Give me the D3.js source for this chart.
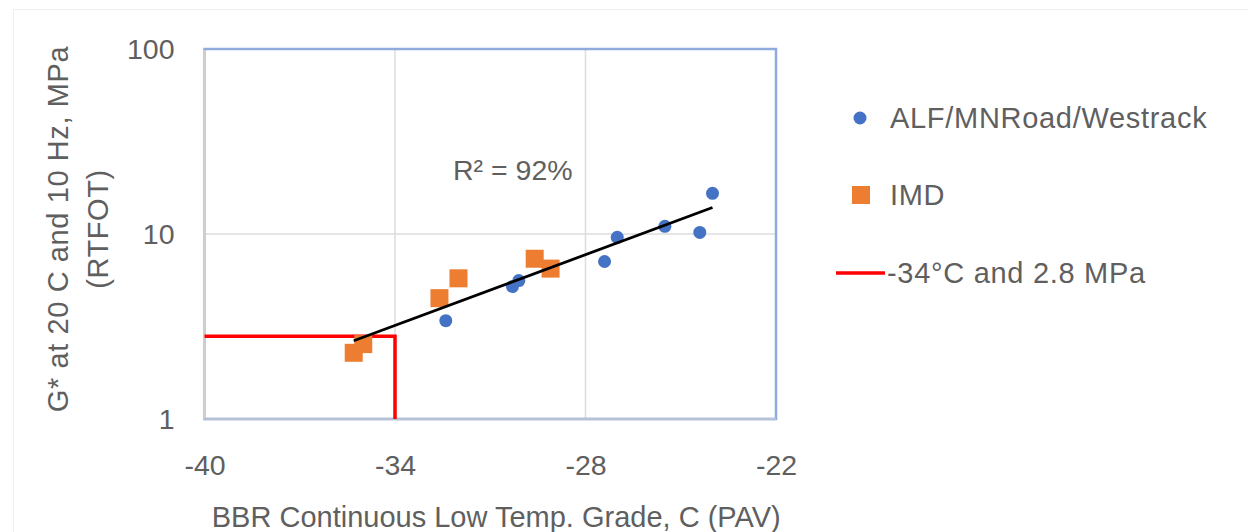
<!DOCTYPE html>
<html>
<head>
<meta charset="utf-8">
<script src="https://cdn.jsdelivr.net/npm/d3@7"></script>
<style>
  html, body { margin: 0; padding: 0; background: #ffffff; }
  svg { display: block; }
  text { font-family: "Liberation Sans", Arial, sans-serif; fill: #5f5f5f; }
</style>
</head>
<body>
<svg id="chart" width="1248" height="532"></svg>
<script>
// Field sections (ALF / MnROAD / WesTrack)
const fieldTemp = [-32.4, -30.3, -30.1, -27.4, -27.0, -25.5, -24.4, -24.0];
const fieldGstar = [3.4, 5.2, 5.6, 7.1, 9.6, 11.0, 10.2, 16.6];

// IMD binders
const imdTemp = [-35.3, -35.0, -32.6, -32.0, -29.6, -29.1];
const imdGstar = [2.28, 2.54, 4.5, 5.76, 7.35, 6.5];

// Exponential trend line (straight on the log axis), end points
const trendTemp = [-35.3, -24.0];
const trendGstar = [2.65, 13.9];
const rSquaredLabel = "R² = 92%";

// Criterion: -34 °C and 2.8 MPa
const limitTemp = -34;
const limitGstar = 2.8;

// Axes
const xTicks = [-40, -34, -28, -22];
const yTicks = [1, 10, 100];
const xTitle = "BBR Continuous Low Temp. Grade, C (PAV)";
const yTitleLines = ["G* at 20 C and 10 Hz, MPa", "(RTFOT)"];

const legendLabels = ["ALF/MNRoad/Westrack", "IMD", "-34°C and 2.8 MPa"];

const BLUE = "#4472C4", ORANGE = "#ED7D31", RED = "#FF0000";

const svg = d3.select("#chart");
const plot = { left: 204.5, top: 49, right: 776, bottom: 419 };

const x = d3.scaleLinear().domain([-40, -22]).range([plot.left, plot.right]);
const y = d3.scaleLog().domain([1, 100]).range([plot.bottom, plot.top]);

// faint outer chart frame
svg.append("rect")
  .attr("x", 13.5).attr("y", 9.5).attr("width", 1300).attr("height", 600)
  .attr("fill", "none").attr("stroke", "#f0f0f0").attr("stroke-width", 1);

// gridlines
const grid = svg.append("g");
grid.selectAll("line.vx").data(xTicks.slice(1, -1)).join("line")
  .attr("x1", d => x(d)).attr("x2", d => x(d))
  .attr("y1", plot.top).attr("y2", plot.bottom)
  .attr("stroke", "#dcdcdc").attr("stroke-width", 1.5);
grid.selectAll("line.hy").data(yTicks.slice(1, -1)).join("line")
  .attr("x1", plot.left).attr("x2", plot.right)
  .attr("y1", d => y(d)).attr("y2", d => y(d))
  .attr("stroke", "#dcdcdc").attr("stroke-width", 1.5);

// plot-area frame
svg.append("rect")
  .attr("x", plot.left).attr("y", plot.top)
  .attr("width", plot.right - plot.left).attr("height", plot.bottom - plot.top)
  .attr("fill", "none").attr("stroke", "#8FAADC").attr("stroke-width", 2.5);
// value axis lines (left and bottom)
svg.append("line").attr("x1", plot.left).attr("x2", plot.left)
  .attr("y1", plot.top + 1).attr("y2", plot.bottom)
  .attr("stroke", "#d0d0d0").attr("stroke-width", 2.5);
svg.append("line").attr("x1", plot.left).attr("x2", plot.right)
  .attr("y1", plot.bottom).attr("y2", plot.bottom)
  .attr("stroke", "#b8c2d6").attr("stroke-width", 2.5);

// axes text via d3 axis generators, domain/ticks hidden
const xAxis = svg.append("g")
  .attr("transform", `translate(0,${plot.bottom})`)
  .call(d3.axisBottom(x).tickValues(xTicks).tickSize(0).tickPadding(36).tickFormat(d3.format("d")));
const yAxis = svg.append("g")
  .attr("transform", `translate(${plot.left},0)`)
  .call(d3.axisLeft(y).tickValues(yTicks).tickSize(0).tickPadding(30).tickFormat(d3.format("d")));
[xAxis, yAxis].forEach(g => {
  g.select(".domain").remove();
  g.selectAll("text").attr("font-size", 28.5).attr("fill", "#5f5f5f")
    .attr("font-family", "'Liberation Sans', Arial, sans-serif");
});
xAxis.selectAll("text").text(d => d < 0 ? "-" + Math.abs(d) : d);

// axis titles
svg.append("text")
  .attr("x", (plot.left + plot.right) / 2 + 6).attr("y", 527)
  .attr("text-anchor", "middle").attr("font-size", 29)
  .text(xTitle);
const yTitle = svg.append("text")
  .attr("transform", `translate(68,229) rotate(-90)`)
  .attr("text-anchor", "middle").attr("font-size", 29).attr("letter-spacing", 0.6);
yTitleLines.forEach((t, i) => {
  yTitle.append("tspan").attr("x", 0).attr("dy", i === 0 ? 0 : 40).text(t);
});

// criterion lines
const limitLine = d3.line().x(d => x(d[0])).y(d => y(d[1]));
svg.append("path")
  .datum([[-40, limitGstar], [limitTemp, limitGstar], [limitTemp, 1]])
  .attr("d", limitLine)
  .attr("fill", "none").attr("stroke", RED).attr("stroke-width", 3.5);

// IMD squares
const sq = 18;
svg.append("g").selectAll("rect").data(d3.zip(imdTemp, imdGstar)).join("rect")
  .attr("x", d => x(d[0]) - sq / 2).attr("y", d => y(d[1]) - sq / 2)
  .attr("width", sq).attr("height", sq).attr("fill", ORANGE);

// field circles
svg.append("g").selectAll("circle").data(d3.zip(fieldTemp, fieldGstar)).join("circle")
  .attr("cx", d => x(d[0])).attr("cy", d => y(d[1])).attr("r", 6.5)
  .attr("fill", BLUE);

// trend line
svg.append("path")
  .datum(d3.zip(trendTemp, trendGstar))
  .attr("d", d3.line().x(d => x(d[0])).y(d => y(d[1])))
  .attr("stroke", "#000").attr("stroke-width", 2.8).attr("fill", "none");

svg.append("text").attr("x", 453).attr("y", 180).attr("font-size", 28.5)
  .text(rSquaredLabel);

// legend
const legend = svg.append("g");
const legY = [118, 195, 273];
legend.append("circle").attr("cx", 860).attr("cy", legY[0]).attr("r", 6.5).attr("fill", BLUE);
legend.append("rect").attr("x", 852).attr("y", legY[1] - 9).attr("width", 18).attr("height", 18).attr("fill", ORANGE);
legend.append("line").attr("x1", 836).attr("x2", 885).attr("y1", legY[2]).attr("y2", legY[2])
  .attr("stroke", RED).attr("stroke-width", 3.5);
legend.selectAll("text").data(legendLabels).join("text")
  .attr("x", (d, i) => i === 2 ? 887 : 890).attr("y", (d, i) => legY[i])
  .attr("dy", "0.35em").attr("font-size", 29).attr("letter-spacing", 0.7)
  .text(d => d);
</script>
</body>
</html>
